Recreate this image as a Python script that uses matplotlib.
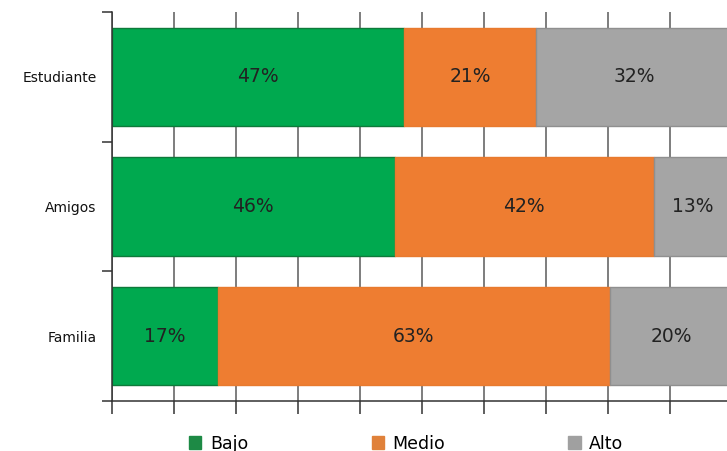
import matplotlib.pyplot as plt
from matplotlib.patches import Patch

# datos (porcentajes)
categorias = ['Estudiante', 'Amigos', 'Familia']
bajo = [47.1, 45.6, 17.1]
medio = [21.3, 41.8, 63.2]
alto = [31.6, 12.6, 19.7]
series = ['Bajo', 'Medio', 'Alto']

colores = ['#00a94f', '#ee7d31', '#a5a5a5']
bordes = ['#0e7a3a', '#e87a2e', '#8f8f8f']
colores_leyenda = ['#1d8a45', '#e0813a', '#a0a0a0']

fig = plt.figure(figsize=(7.27, 4.51), dpi=100)
ax = fig.add_axes([0.154, 0.111, 0.853, 0.8625])

y = list(range(len(categorias)))
izq = [0] * len(categorias)
for valores, c, b in zip([bajo, medio, alto], colores, bordes):
    barras = ax.barh(y, valores, left=izq, height=0.76, color=c,
                     edgecolor=b, linewidth=1.0, zorder=2)
    for rect, v in zip(barras, valores):
        ax.text(rect.get_x() + rect.get_width() / 2, rect.get_y() + rect.get_height() / 2,
                f'{v:.0f}%', ha='center', va='center', fontsize=13.5, color='#222222', zorder=3)
    izq = [a + v for a, v in zip(izq, valores)]

ax.set_xlim(0, 100)
ax.set_ylim(2.5, -0.5)
ax.set_xticks(range(0, 101, 10))
ax.set_xticklabels([])
ax.tick_params(axis='x', direction='out', length=9, width=1.1, color='#333333')
ax.grid(axis='x', color='#5a5a5a', linewidth=1.1, zorder=0)
ax.set_axisbelow(True)

ax.set_yticks(y)
ax.set_yticklabels(categorias, fontsize=10, color='#111111')
ax.tick_params(axis='y', which='major', length=0, pad=11)
ax.set_yticks([-0.5, 0.5, 1.5, 2.5], minor=True)
ax.tick_params(axis='y', which='minor', length=7, width=1.1, color='#333333')

for s in ['top', 'right']:
    ax.spines[s].set_visible(False)
for s in ['left', 'bottom']:
    ax.spines[s].set_color('#333333')
    ax.spines[s].set_linewidth(1.1)

handles = [Patch(facecolor=c, edgecolor=c) for c in colores_leyenda]
fig.legend(handles, series, loc='lower center', bbox_to_anchor=(0.559, -0.038), ncol=3,
           frameon=False, fontsize=12.5, handlelength=0.7, handleheight=0.7,
           handletextpad=0.5, columnspacing=7.1)

fig.savefig('out.png', dpi=100)
